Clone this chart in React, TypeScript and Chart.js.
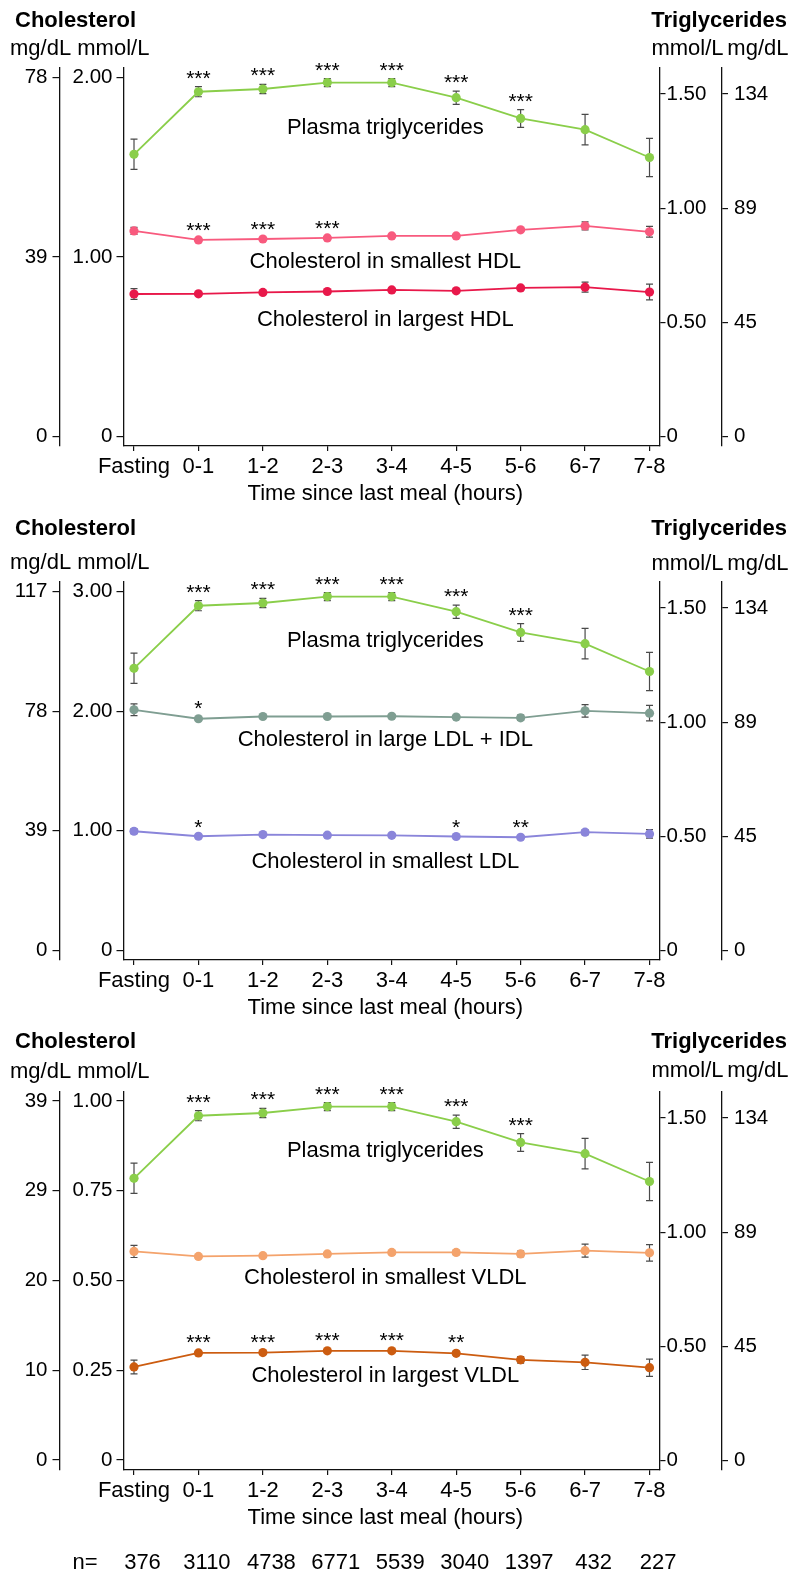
import React, { useEffect, useRef } from "react";
import { Chart, registerables } from "chart.js";

Chart.register(...registerables);

// ---------- data ----------
const categories = ["Fasting", "0-1", "1-2", "2-3", "3-4", "4-5", "5-6", "6-7", "7-8"];
const sampleSizes = ["376", "3110", "4738", "6771", "5539", "3040", "1397", "432", "227"];

// Plasma triglycerides (mmol/L, right axis) – same in every panel
const tgMean = [1.236, 1.51, 1.522, 1.55, 1.55, 1.484, 1.393, 1.344, 1.222];
const tgErr = [0.066, 0.022, 0.02, 0.018, 0.018, 0.029, 0.039, 0.067, 0.084];
const tgStars = ["", "***", "***", "***", "***", "***", "***", "", ""];

// Panel 1 – HDL cholesterol (mmol/L, left axis)
const hdlSmallMean = [1.145, 1.095, 1.1, 1.106, 1.117, 1.117, 1.151, 1.173, 1.14];
const hdlSmallErr = [0.02, 0.006, 0.005, 0.005, 0.005, 0.006, 0.008, 0.022, 0.03];
const hdlSmallStars = ["", "***", "***", "***", "", "", "", "", ""];
const hdlLargeMean = [0.793, 0.794, 0.802, 0.807, 0.816, 0.811, 0.827, 0.831, 0.804];
const hdlLargeErr = [0.03, 0.008, 0.007, 0.007, 0.008, 0.009, 0.012, 0.028, 0.044];
const hdlLargeStars = ["", "", "", "", "", "", "", "", ""];

// Panel 2 – LDL cholesterol
const ldlLargeMean = [2.012, 1.937, 1.956, 1.956, 1.958, 1.951, 1.945, 2.003, 1.984];
const ldlLargeErr = [0.049, 0.012, 0.01, 0.01, 0.01, 0.012, 0.022, 0.053, 0.065];
const ldlLargeStars = ["", "*", "", "", "", "", "", "", ""];
const ldlSmallMean = [0.996, 0.954, 0.968, 0.963, 0.962, 0.952, 0.946, 0.988, 0.974];
const ldlSmallErr = [0.02, 0.006, 0.005, 0.005, 0.005, 0.006, 0.008, 0.02, 0.035];
const ldlSmallStars = ["", "*", "", "", "", "*", "**", "", ""];

// Panel 3 – VLDL cholesterol
const vldlSmallMean = [0.581, 0.567, 0.569, 0.574, 0.578, 0.578, 0.574, 0.583, 0.577];
const vldlSmallErr = [0.017, 0.005, 0.004, 0.004, 0.005, 0.006, 0.008, 0.018, 0.023];
const vldlSmallStars = ["", "", "", "", "", "", "", "", ""];
const vldlLargeMean = [0.259, 0.298, 0.299, 0.304, 0.304, 0.297, 0.279, 0.272, 0.257];
const vldlLargeErr = [0.019, 0.005, 0.004, 0.004, 0.005, 0.006, 0.009, 0.02, 0.024];
const vldlLargeStars = ["", "***", "***", "***", "***", "**", "", "", ""];

// tick values and labels
const rightMmolTicks = [0, 0.5, 1, 1.5];
const rightMmolLabels = ["0", "0.50", "1.00", "1.50"];
const rightMgLabels = ["0", "45", "89", "134"];

const p1LeftTicks = [0, 1, 2];
const p1LeftMmolLabels = ["0", "1.00", "2.00"];
const p1LeftMgLabels = ["0", "39", "78"];

const p2LeftTicks = [0, 1, 2, 3];
const p2LeftMmolLabels = ["0", "1.00", "2.00", "3.00"];
const p2LeftMgLabels = ["0", "39", "78", "117"];

const p3LeftTicks = [0, 0.25, 0.5, 0.75, 1];
const p3LeftMmolLabels = ["0", "0.25", "0.50", "0.75", "1.00"];
const p3LeftMgLabels = ["0", "10", "20", "29", "39"];

// ---------- styling / layout ----------
const FONT = "'Liberation Sans', Arial, Helvetica, sans-serif";
const W = 800;
const PAD_TOP = 68;
const AREA_H = 378;
const X_MIN = -0.163;
const X_MAX = 8.155;
const LABEL_X = 3.9;
const RIGHT_MIN = -0.042;
const RIGHT_MAX = 1.614;

const GREEN = "#8ACE4A";

type Series = {
  values: number[];
  errors: number[];
  stars: string[];
  color: string;
  axis: "yLmm" | "yRmm";
  label: string;
  labelY: number;
};

type Panel = {
  top: number;
  height: number;
  leftMin: number;
  leftMax: number;
  leftTicks: number[];
  leftMmolLabels: string[];
  leftMgLabels: string[];
  titleY: number;
  unitsY: number;
  unitsYR: number;
  showN: boolean;
  series: Series[];
};

const tgSeries = (labelY: number): Series => ({
  values: tgMean,
  errors: tgErr,
  stars: tgStars,
  color: GREEN,
  axis: "yRmm",
  label: "Plasma triglycerides",
  labelY,
});

const panels: Panel[] = [
  {
    top: 0,
    height: 514,
    leftMin: -0.055,
    leftMax: 2.054,
    leftTicks: p1LeftTicks,
    leftMmolLabels: p1LeftMmolLabels,
    leftMgLabels: p1LeftMgLabels,
    titleY: 20.7,
    unitsY: 49,
    unitsYR: 48.5,
    showN: false,
    series: [
      tgSeries(1.352),
      { values: hdlSmallMean, errors: hdlSmallErr, stars: hdlSmallStars, color: "#F85A7E", axis: "yLmm", label: "Cholesterol in smallest HDL", labelY: 0.972 },
      { values: hdlLargeMean, errors: hdlLargeErr, stars: hdlLargeStars, color: "#E8184A", axis: "yLmm", label: "Cholesterol in largest HDL", labelY: 0.648 },
    ],
  },
  {
    top: 514,
    height: 510,
    leftMin: -0.081,
    leftMax: 3.081,
    leftTicks: p2LeftTicks,
    leftMmolLabels: p2LeftMmolLabels,
    leftMgLabels: p2LeftMgLabels,
    titleY: 14.5,
    unitsY: 48.7,
    unitsYR: 50,
    showN: false,
    series: [
      tgSeries(1.354),
      { values: ldlLargeMean, errors: ldlLargeErr, stars: ldlLargeStars, color: "#7F9E92", axis: "yLmm", label: "Cholesterol in large LDL + IDL", labelY: 1.761 },
      { values: ldlSmallMean, errors: ldlSmallErr, stars: ldlSmallStars, color: "#8A85DA", axis: "yLmm", label: "Cholesterol in smallest LDL", labelY: 0.743 },
    ],
  },
  {
    top: 1024,
    height: 558,
    leftMin: -0.028,
    leftMax: 1.025,
    leftTicks: p3LeftTicks,
    leftMmolLabels: p3LeftMmolLabels,
    leftMgLabels: p3LeftMgLabels,
    titleY: 18,
    unitsY: 48,
    unitsYR: 47,
    showN: true,
    series: [
      tgSeries(1.357),
      { values: vldlSmallMean, errors: vldlSmallErr, stars: vldlSmallStars, color: "#F4A36C", axis: "yLmm", label: "Cholesterol in smallest VLDL", labelY: 0.508 },
      { values: vldlLargeMean, errors: vldlLargeErr, stars: vldlLargeStars, color: "#CC5C10", axis: "yLmm", label: "Cholesterol in largest VLDL", labelY: 0.234 },
    ],
  },
];

function makeDecor(panel: Panel) {
  return {
    id: "decor",
    beforeDatasetsDraw(chart: any) {
      const ctx = chart.ctx;
      const xs = chart.scales.x;
      ctx.save();
      ctx.strokeStyle = "#4a4a4a";
      ctx.lineWidth = 1.2;
      panel.series.forEach((s) => {
        const ys = chart.scales[s.axis];
        s.values.forEach((v, i) => {
          const e = s.errors[i];
          const px = xs.getPixelForValue(i);
          const y1 = ys.getPixelForValue(v - e);
          const y2 = ys.getPixelForValue(v + e);
          ctx.beginPath();
          ctx.moveTo(px, y1);
          ctx.lineTo(px, y2);
          ctx.moveTo(px - 3.5, y1);
          ctx.lineTo(px + 3.5, y1);
          ctx.moveTo(px - 3.5, y2);
          ctx.lineTo(px + 3.5, y2);
          ctx.stroke();
        });
      });
      ctx.restore();
    },
    afterDraw(chart: any) {
      const ctx = chart.ctx;
      const xs = chart.scales.x;
      ctx.save();
      ctx.fillStyle = "#000";
      // asterisks
      ctx.font = `21px ${FONT}`;
      ctx.textAlign = "center";
      ctx.textBaseline = "alphabetic";
      panel.series.forEach((s) => {
        const ys = chart.scales[s.axis];
        s.stars.forEach((st, i) => {
          if (!st) return;
          const px = xs.getPixelForValue(i);
          const py = ys.getPixelForValue(s.values[i] + s.errors[i]);
          ctx.fillText(st, px, py - 2);
        });
      });
      // series labels
      ctx.font = `22px ${FONT}`;
      ctx.textBaseline = "middle";
      panel.series.forEach((s) => {
        const ys = chart.scales[s.axis];
        ctx.fillText(s.label, xs.getPixelForValue(LABEL_X), ys.getPixelForValue(s.labelY));
      });
      // axis title
      const bottom = chart.chartArea.bottom;
      ctx.fillText("Time since last meal (hours)", xs.getPixelForValue(LABEL_X), bottom + 47.5);
      // n row
      if (panel.showN) {
        ctx.fillText("n=", 85, bottom + 92.7);
        sampleSizes.forEach((n, i) => {
          ctx.fillText(n, xs.getPixelForValue(i) + 8.5, bottom + 92.7);
        });
      }
      // headers
      ctx.font = `bold 22px ${FONT}`;
      ctx.textAlign = "left";
      ctx.fillText("Cholesterol", 15, panel.titleY);
      ctx.textAlign = "right";
      ctx.fillText("Triglycerides", 787, panel.titleY);
      ctx.font = `22px ${FONT}`;
      ctx.textAlign = "left";
      ctx.fillText("mg/dL mmol/L", 10, panel.unitsY);
      ctx.textAlign = "right";
      ctx.fillText("mmol/L", 723.5, panel.unitsYR);
      ctx.fillText("mg/dL", 788.5, panel.unitsYR);
      ctx.restore();
    },
  };
}

const axisBorder = { display: true, color: "#111", width: 1.3 };

function yAxis(
  position: "left" | "right",
  weight: number,
  min: number,
  max: number,
  tickVals: number[],
  labels: string[],
  width: number,
  tickLength: number,
  padding: number
) {
  return {
    type: "linear",
    axis: "y",
    position,
    weight,
    min,
    max,
    afterBuildTicks: (scale: any) => {
      scale.ticks = tickVals.map((v) => ({ value: v }));
    },
    afterFit: (scale: any) => {
      scale.width = width;
    },
    ticks: {
      autoSkip: false,
      padding,
      color: "#000",
      font: { family: FONT, size: 20.5 },
      callback: (_v: any, i: number) => labels[i],
    },
    grid: {
      display: true,
      drawOnChartArea: false,
      drawTicks: true,
      tickLength,
      color: "#111",
      tickColor: "#111",
      lineWidth: 1.2,
    },
    border: axisBorder,
  };
}

function PanelChart({ panel }: { panel: Panel }) {
  const ref = useRef<HTMLCanvasElement | null>(null);
  useEffect(() => {
    if (!ref.current) return;
    const chart = new Chart(ref.current, {
      type: "line",
      data: {
        datasets: panel.series.map((s) => ({
          label: s.label,
          data: s.values.map((v, i) => ({ x: i, y: v })),
          borderColor: s.color,
          backgroundColor: s.color,
          pointBackgroundColor: s.color,
          pointBorderColor: s.color,
          pointBorderWidth: 0,
          pointRadius: 4.6,
          borderWidth: 1.8,
          tension: 0,
          yAxisID: s.axis,
          clip: false,
        })),
      } as any,
      options: {
        responsive: false,
        animation: false,
        devicePixelRatio: 1,
        events: [],
        layout: { padding: { top: PAD_TOP, left: 0, right: 0, bottom: 0 } },
        plugins: {
          legend: { display: false },
          tooltip: { enabled: false },
          title: { display: false },
        },
        scales: {
          x: {
            type: "linear",
            position: "bottom",
            min: X_MIN,
            max: X_MAX,
            afterBuildTicks: (scale: any) => {
              scale.ticks = categories.map((_c, i) => ({ value: i }));
            },
            afterFit: (scale: any) => {
              scale.height = panel.height - PAD_TOP - AREA_H;
            },
            ticks: {
              autoSkip: false,
              maxRotation: 0,
              minRotation: 0,
              padding: 3,
              color: "#000",
              font: { family: FONT, size: 22 },
              callback: (_v: any, i: number) => categories[i],
            },
            grid: {
              display: true,
              drawOnChartArea: false,
              drawTicks: true,
              tickLength: 5,
              color: "#111",
              tickColor: "#111",
              lineWidth: 1.2,
            },
            border: axisBorder,
          },
          yLmg: yAxis("left", 1, panel.leftMin, panel.leftMax, panel.leftTicks, panel.leftMgLabels, 59.5, 7, 5),
          yLmm: yAxis("left", 0, panel.leftMin, panel.leftMax, panel.leftTicks, panel.leftMmolLabels, 64, 7, 4),
          yRmm: yAxis("right", 0, RIGHT_MIN, RIGHT_MAX, rightMmolTicks, rightMmolLabels, 62.5, 6, 1),
          yRmg: yAxis("right", 1, RIGHT_MIN, RIGHT_MAX, rightMmolTicks, rightMgLabels, 78, 6, 6),
        } as any,
      },
      plugins: [makeDecor(panel)],
    } as any);
    return () => chart.destroy();
  }, [panel]);
  return (
    <canvas
      ref={ref}
      width={W}
      height={panel.height}
      style={{ position: "absolute", left: 0, top: panel.top, width: W, height: panel.height }}
    />
  );
}

export default function App() {
  return (
    <div style={{ position: "absolute", left: 0, top: 0, width: W, height: 1582, background: "#fff" }}>
      {panels.map((p, i) => (
        <PanelChart key={i} panel={p} />
      ))}
    </div>
  );
}
